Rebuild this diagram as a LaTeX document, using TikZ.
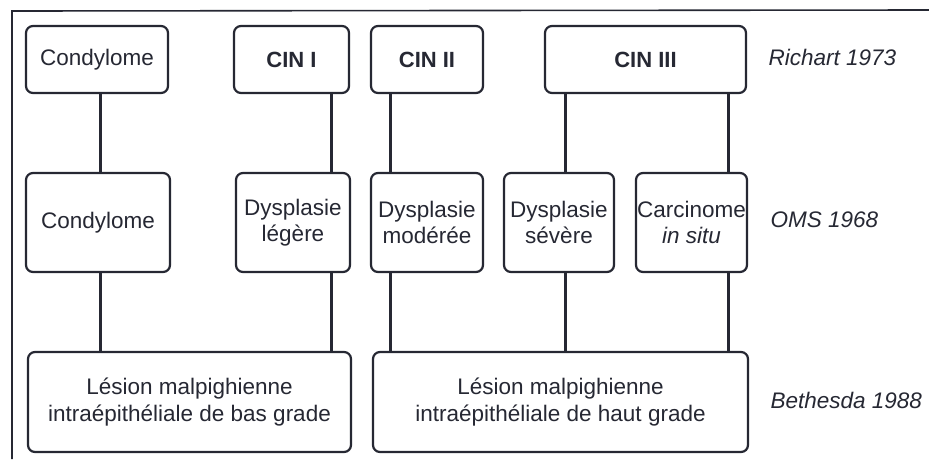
\documentclass[tikz,border=0pt]{standalone}
\usepackage{fontspec}
\setmainfont{Liberation Sans}
\definecolor{ink}{HTML}{262833}
\begin{document}
\begin{tikzpicture}[x=1pt,y=-1pt,
  box/.style={draw=ink,line width=2.2pt,rounded corners=7pt,inner sep=0pt,
    align=center,text=ink,font=\fontsize{22.5}{26.5}\selectfont},
  boldbox/.style={box,font=\fontsize{22}{26}\selectfont\bfseries},
  link/.style={draw=ink,line width=2.1pt},
  era/.style={anchor=west,text=ink,font=\fontsize{22.5}{26}\selectfont\itshape}]
\useasboundingbox (0,0) rectangle (929,459);
\fill[white] (0,0) rectangle (929,459);
% outer frame (open to the right and bottom)
\draw[ink,line width=1.6pt] (12,459) -- (12,11) -- (929,10);

% Richart 1973
\node[box,minimum width=142,minimum height=67] (r1a) at (97,59.5) {Condylome};
\node[boldbox,minimum width=115,minimum height=67] (r1b) at (291.5,59.5) {CIN I};
\node[boldbox,minimum width=112,minimum height=67] (r1c) at (427,59.5) {CIN II};
\node[boldbox,minimum width=201,minimum height=67] (r1d) at (645.5,59.5) {CIN III};

% OMS 1968
\node[box,minimum width=144,minimum height=99] (r2a) at (98,222.5) {Condylome};
\node[box,minimum width=114,minimum height=99] (r2b) at (293,222.5) {Dysplasie\\légère};
\node[box,minimum width=112,minimum height=99] (r2c) at (427,222.5) {Dysplasie\\modérée};
\node[box,minimum width=110,minimum height=99] (r2d) at (559,222.5) {Dysplasie\\sévère};
\node[box,minimum width=111,minimum height=99] (r2e) at (691.5,222.5) {Carcinome\\\textit{in situ}};

% Bethesda 1988
\node[box,minimum width=323,minimum height=100] (r3a) at (189.5,402) {Lésion malpighienne\\intraépithéliale de bas grade};
\node[box,minimum width=375,minimum height=100] (r3b) at (560.5,402) {Lésion malpighienne\\intraépithéliale de haut grade};

% classification names
\node[era] (n1) at (765,57) {Richart 1973};
\node[era] (n2) at (767,220) {OMS 1968};
\node[era] (n3) at (767,400) {Bethesda 1988};

% connector columns
\coordinate (xa) at (100.5,0);
\coordinate (xb) at (331.5,0);
\coordinate (xc) at (390.5,0);
\coordinate (xd) at (565.5,0);
\coordinate (xe) at (728.5,0);

\draw[link] (r1a.south -| xa) -- (r2a.north -| xa);
\draw[link] (r1b.south -| xb) -- (r2b.north -| xb);
\draw[link] (r1c.south -| xc) -- (r2c.north -| xc);
\draw[link] (r1d.south -| xd) -- (r2d.north -| xd);
\draw[link] (r1d.south -| xe) -- (r2e.north -| xe);

\draw[link] (r2a.south -| xa) -- (r3a.north -| xa);
\draw[link] (r2b.south -| xb) -- (r3a.north -| xb);
\draw[link] (r2c.south -| xc) -- (r3b.north -| xc);
\draw[link] (r2d.south -| xd) -- (r3b.north -| xd);
\draw[link] (r2e.south -| xe) -- (r3b.north -| xe);
\end{tikzpicture}
\end{document}
